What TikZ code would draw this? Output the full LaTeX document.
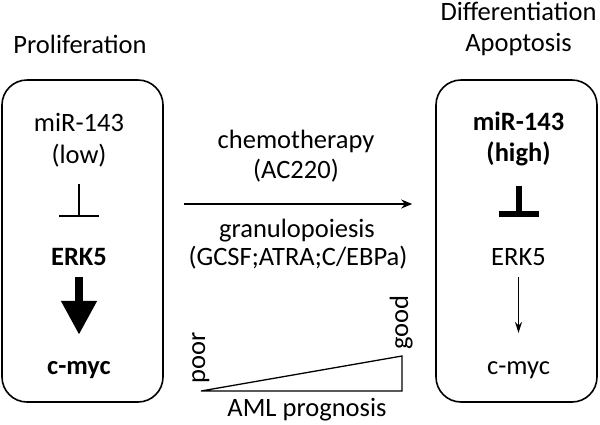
\documentclass[tikz,border=0pt]{standalone}
\usepackage{fontspec}
\setmainfont{Carlito}
\usetikzlibrary{arrows.meta,calc}
\begin{document}
\begin{tikzpicture}[x=1pt,y=-1pt,
  txt/.style={inner sep=0pt, anchor=base, font=\fontsize{26.5}{30}\selectfont},
  btxt/.style={txt, font=\fontsize{26.5}{30}\selectfont\bfseries},
  panel/.style={draw, line width=1.6pt, rounded corners=25pt, minimum width=161pt, minimum height=322pt, inner sep=0pt},
  thininh/.style={line width=1.2pt, -{Bar[width=40pt,line width=1.2pt]}},
  thickinh/.style={line width=6pt, -{Bar[width=40pt,line width=6pt]}},
  bigarrow/.style={line width=8pt, -{Triangle[width=34pt,length=34pt]}},
  thinarrow/.style={line width=1.2pt, -{Stealth[width=7pt,length=11pt]}},
  mainarrow/.style={line width=1.6pt, -{Stealth[width=9pt,length=11pt]}},
]
\useasboundingbox (0,0) rectangle (600,424);
\node[panel] (lbox) at (82.5,241) {};
\node[panel] (rbox) at (516.5,241) {};

\node[txt] (prol) at (80,53) {Proliferation};
\node[txt] (diff) at (518.5,20) {Differentiation};
\node[txt] (apop) at (518.5,51) {Apoptosis};

% left panel
\node[txt] (lmir) at (79,131) {miR-143};
\node[txt] (llow) at (79,163) {(low)};
\node[btxt] (lerk) at (79,265) {ERK5};
\node[btxt] (lmyc) at (79,374) {c-myc};
\draw[thininh, shorten <=17pt, shorten >=31pt] (llow.south) -- (lerk.north);
\draw[bigarrow, shorten <=12pt, shorten >=26pt] (lerk.south) -- (lmyc.north);

% right panel
\node[btxt] (rmir) at (518.5,130) {miR-143};
\node[btxt] (rhigh) at (518.5,161) {(high)};
\node[txt] (rerk) at (518.5,265) {ERK5};
\node[txt] (rmyc) at (518.5,374) {c-myc};
\draw[thickinh, shorten <=20pt, shorten >=31pt] (rhigh.south) -- (rerk.north);
\draw[thinarrow, shorten <=12pt, shorten >=28pt] (rerk.south) -- (rmyc.north);

% middle
\node[txt] (chemo) at (296,148) {chemotherapy};
\node[txt] (ac) at (296,178) {(AC220)};
\node[txt] (gran) at (297,237) {granulopoiesis};
\node[txt] (gcsf) at (298,265) {(GCSF;ATRA;C/EBPa)};
\draw[mainarrow] ($(lbox.east)+(20,-37)$) -- ($(rbox.west)+(-23,-37)$);

% prognosis
\coordinate (t1) at (201,391);
\coordinate (t2) at (402,391);
\coordinate (t3) at (402,356);
\draw[line width=1.3pt, line join=miter] (t1) -- (t2) -- (t3) -- cycle;
\node[txt, rotate=90, anchor=base west] (poor) at (205,384) {poor};
\node[txt, rotate=90, anchor=base west] (good) at (408,350) {good};
\node[txt] (aml) at (307,416) {AML prognosis};
\end{tikzpicture}
\end{document}
